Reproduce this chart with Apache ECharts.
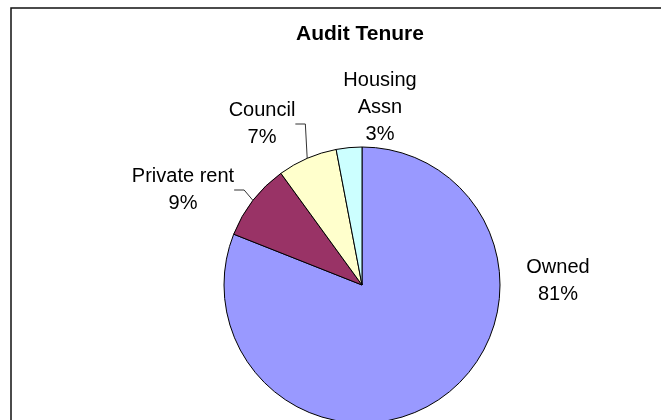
<!DOCTYPE html>
<html>
<head>
<meta charset="utf-8">
<style>
  html, body { margin: 0; padding: 0; background: #fff; }
  #main { width: 661px; height: 420px; }
</style>
<script src="https://cdn.jsdelivr.net/npm/echarts@6/dist/echarts.min.js"></script>
</head>
<body>
<div id="main"></div>
<script>
// tenure categories and share (%)
const categories = ["Owned", "Private rent", "Council", "Housing Assn"];
const values = [81, 9, 7, 3];
const colors = ["#9999FF", "#993366", "#FFFFCC", "#CCFFFF"];

// where the data labels sit (label centre, px) and whether they get a leader line
const labelPos = [[558, 281], [183, 190], [262, 124], [380, 107]];
const showLeader = [false, true, true, false];

const chart = echarts.init(document.getElementById("main"));

const option = {
  animation: false,
  backgroundColor: "#fff",
  title: {
    text: "Audit Tenure",
    left: 355,
    top: 19,
    textAlign: "center",
    textStyle: {
      fontFamily: "Liberation Sans",
      fontSize: 21,
      fontWeight: "bold",
      color: "#000",
    },
  },
  graphic: [
    {
      type: "rect",
      shape: { x: 11, y: 8, width: 700, height: 500 },
      style: { fill: "none", stroke: "#111", lineWidth: 1.5 },
      z: 0,
    },
  ],
  series: [
    {
      type: "pie",
      center: [362, 285],
      radius: 138,
      startAngle: 90,
      clockwise: true,
      data: categories.map((name, i) => ({
        name,
        value: values[i],
        itemStyle: { color: colors[i] },
        labelLine: { show: showLeader[i] },
      })),
      itemStyle: { borderColor: "#000", borderWidth: 1 },
      label: {
        show: true,
        position: "outside",
        formatter: (p) => p.name.replace(" Assn", "\nAssn") + "\n" + Math.round(p.percent) + "%",
        fontFamily: "Liberation Sans",
        fontSize: 20,
        lineHeight: 27,
        color: "#000",
        align: "center",
      },
      labelLine: {
        length: 10,
        length2: 10,
        lineStyle: { color: "#333", width: 1 },
      },
      labelLayout: (params) => {
        const pos = labelPos[params.dataIndex];
        return { x: pos[0], y: pos[1], align: "center", verticalAlign: "middle" };
      },
      emphasis: { disabled: true },
    },
  ],
};

chart.setOption(option);
</script>
</body>
</html>
